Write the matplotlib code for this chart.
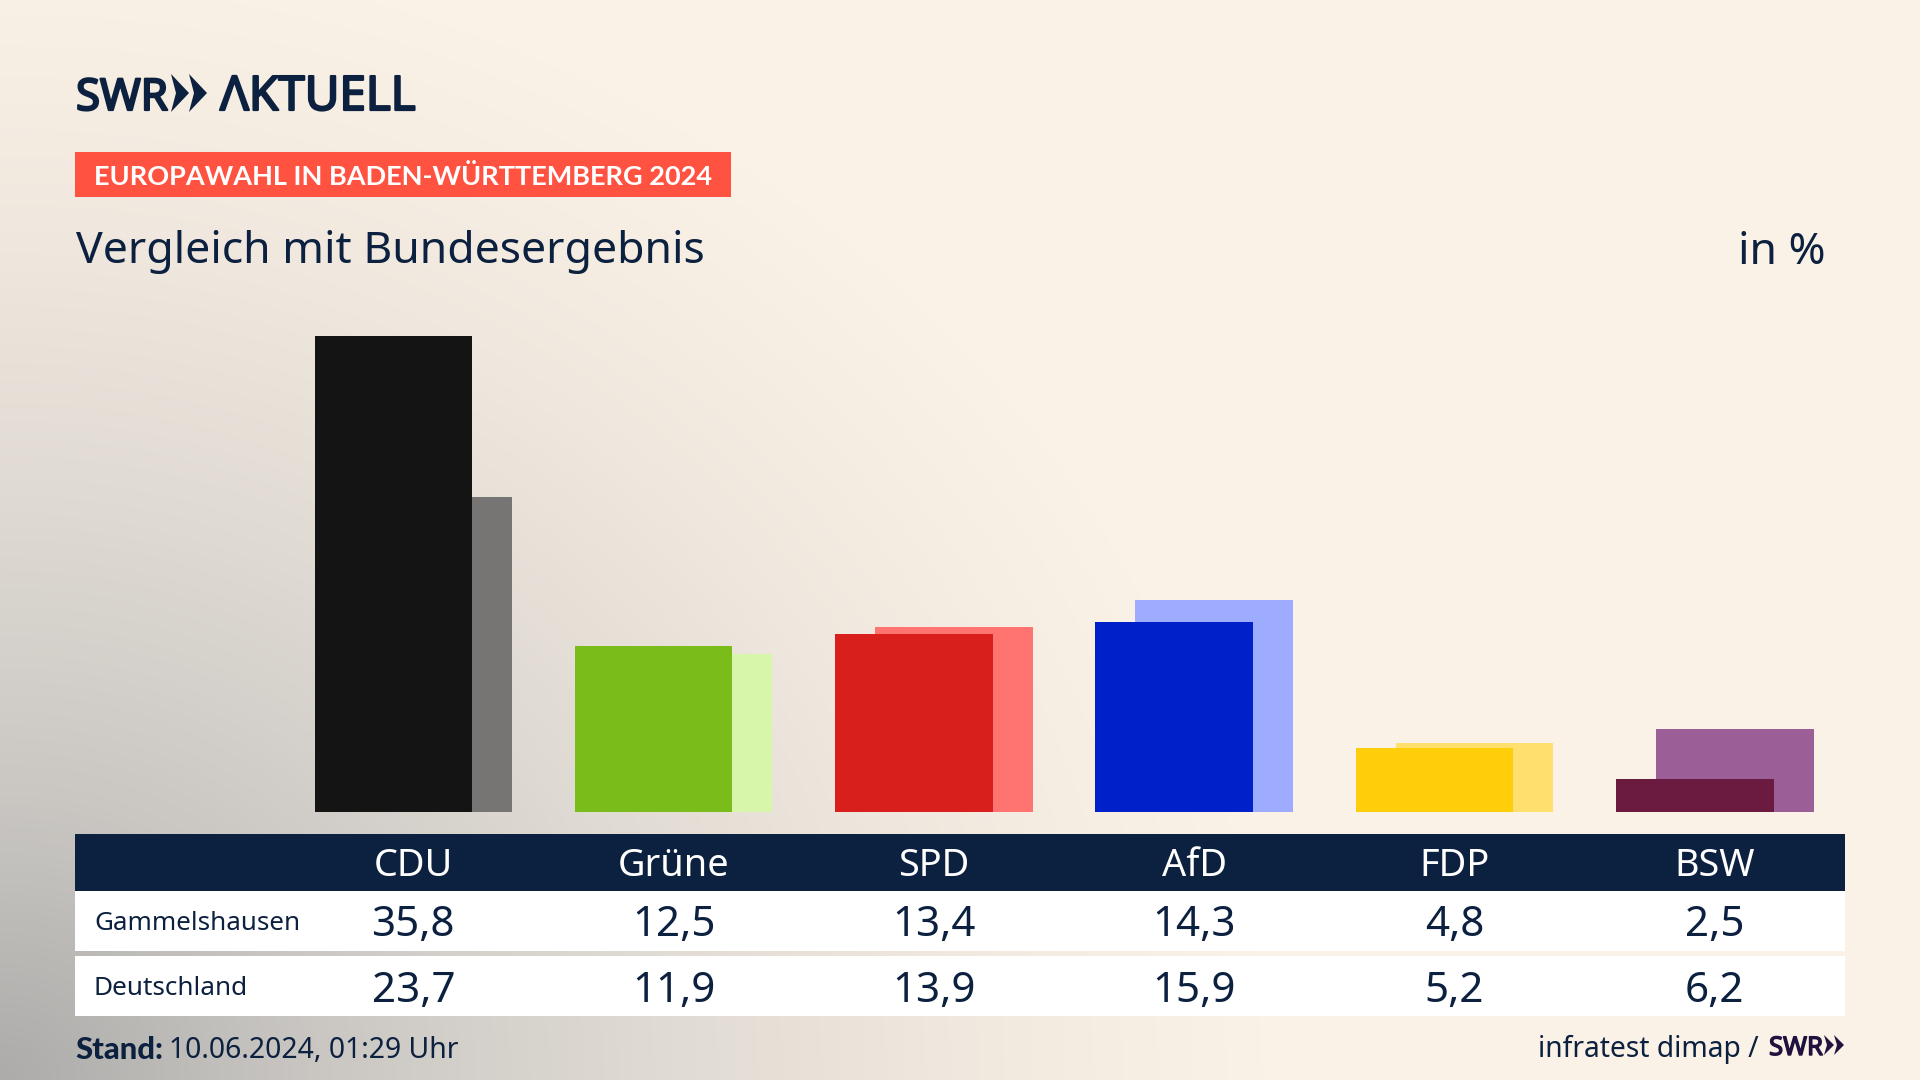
# Europawahl chart: Vergleich mit Bundesergebnis
import numpy as np
import matplotlib
matplotlib.use("Agg")
import matplotlib.pyplot as plt
import matplotlib.patheffects as pe
from matplotlib.colors import LinearSegmentedColormap
from matplotlib.patches import Rectangle, Polygon

# Daten
parteien = ["CDU", "Grüne", "SPD", "AfD", "FDP", "BSW"]
gammelshausen = [35.8, 12.5, 13.4, 14.3, 4.8, 2.5]
deutschland = [23.7, 11.9, 13.9, 15.9, 5.2, 6.2]
farben_vorn = ["#141414", "#7ABD1B", "#D91F1C", "#0021C9", "#FFCE0A", "#6B1A40"]
farben_hinten = ["#767573", "#D8F6A9", "#FF7470", "#9DACFF", "#FFE06E", "#9C5E96"]

NAVY = "#0C203F"
LILA = "#20123F"
CREAM = "#FBF2E7"
FONT = "Noto Sans"
BOLD = "Lato"
LOGO = "Liberation Sans Narrow"

plt.rcParams["font.family"] = [FONT, "DejaVu Sans"]


def de(v):
    return f"{v:.1f}".replace(".", ",")


fig = plt.figure(figsize=(19.2, 10.8), dpi=100)

# Hintergrund mit Verlauf von unten links
bg = fig.add_axes([0, 0, 1, 1], zorder=0)
xx, yy = np.meshgrid(np.linspace(0, 1, 480), np.linspace(0, 1, 270))
d = np.sqrt((xx / 0.66) ** 2 + (yy / 1.05) ** 2)
cmap = LinearSegmentedColormap.from_list("bg", ["#ADACAA", "#CAC7C3", "#DED9D2", "#F0E8DE", CREAM])
bg.imshow(np.clip(d, 0, 1), origin="lower", extent=[0, 1920, 0, 1080], cmap=cmap,
          aspect="auto", vmin=0, vmax=1, interpolation="bilinear")
bg.axis("off")

# Balken
gruppe_px = 260.3
x0_px = 413.3
links, rechts = 75, 1845
basis_px, oben_px = 812, 335.5
ax = fig.add_axes([links / 1920, 1 - basis_px / 1080, (rechts - links) / 1920,
                   (basis_px - oben_px) / 1080], zorder=1)
ax.set_xlim((links - x0_px) / gruppe_px, (rechts - x0_px) / gruppe_px)
ax.set_ylim(0, max(gammelshausen))
ax.axis("off")
pos = np.arange(len(parteien))
breite = 157.5 / gruppe_px
versatz = 20 / gruppe_px
ax.bar(pos + versatz, deutschland, breite, color=farben_hinten, zorder=1)
ax.bar(pos - versatz, gammelshausen, breite, color=farben_vorn, zorder=2)

# Alles andere in Pixelkoordinaten
ov = fig.add_axes([0, 0, 1, 1], zorder=2)
ov.set_xlim(0, 1920)
ov.set_ylim(1080, 0)
ov.axis("off")
ov.patch.set_alpha(0)

# Logo
dick = [pe.withStroke(linewidth=1.6, foreground=NAVY)]
ov.text(76, 110, "SWR", fontsize=31.5, family=[LOGO, FONT], fontweight="bold", color=NAVY,
        va="baseline", ha="left", path_effects=dick)
for dx in (0, 18):
    ov.add_patch(Polygon([[171 + dx, 74], [189 + dx, 93], [171 + dx, 112], [176 + dx, 93]],
                         closed=True, color=NAVY, lw=0))
ov.text(220, 110, "ΛKTUELL", fontsize=34.2, family=[LOGO, FONT], fontweight="bold", color=NAVY,
        va="baseline", ha="left", path_effects=dick)

# Kopf
ov.add_patch(Rectangle((75, 152), 656, 45, color="#FF5240", lw=0))
ov.text(94, 176.5, "EUROPAWAHL IN BADEN-WÜRTTEMBERG 2024", fontsize=19.5, family=BOLD, fontweight="bold",
        color="white", va="center", ha="left")
ov.text(76, 252.5, "Vergleich mit Bundesergebnis", fontsize=32.1, color=NAVY, va="center", ha="left")
ov.text(1825, 252.5, "in %", fontsize=32.1, color=NAVY, va="center", ha="right")

# Tabelle
ov.add_patch(Rectangle((75, 834), 1770, 57, color=NAVY, lw=0))
ov.add_patch(Rectangle((75, 891), 1770, 60, color="white", lw=0))
ov.add_patch(Rectangle((75, 956), 1770, 60, color="white", lw=0))
ov.text(94, 923, "Gammelshausen", fontsize=18.7, color=NAVY, va="center", ha="left")
ov.text(94, 988.5, "Deutschland", fontsize=18.8, color=NAVY, va="center", ha="left")
for i, name in enumerate(parteien):
    xm = x0_px + i * gruppe_px
    ov.text(xm, 866, name, fontsize=27.3, color="white", va="center", ha="center")
    ov.text(xm, 925, de(gammelshausen[i]), fontsize=30.3, color=NAVY, va="center", ha="center")
    ov.text(xm, 991, de(deutschland[i]), fontsize=30.3, color=NAVY, va="center", ha="center")

# Fuss
ov.text(75, 1050, "Stand:", fontsize=22.3, family=BOLD, fontweight="black", color=NAVY, va="center", ha="left")
ov.text(169, 1050, "10.06.2024, 01:29 Uhr", fontsize=20.4, color=NAVY, va="center", ha="left")
ov.text(1759, 1049, "infratest dimap /", fontsize=20.3, color=NAVY, va="center", ha="right")
ov.text(1769, 1055, "SWR", fontsize=18.5, family=[LOGO, FONT], fontweight="bold", color=LILA,
        va="baseline", ha="left", path_effects=[pe.withStroke(linewidth=1, foreground=LILA)])
for dx in (0, 10):
    ov.add_patch(Polygon([[1824 + dx, 1035], [1834 + dx, 1045], [1824 + dx, 1055], [1827 + dx, 1045]],
                         closed=True, color=LILA, lw=0))

fig.savefig("out.png", dpi=100)
